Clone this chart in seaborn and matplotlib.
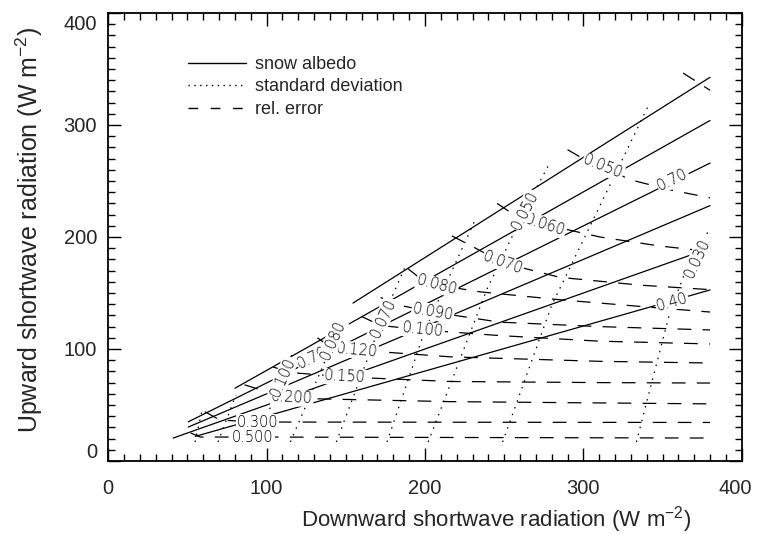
import numpy as np
import pandas as pd
import matplotlib
matplotlib.use("Agg")
import matplotlib.pyplot as plt
import seaborn as sns
from matplotlib.lines import Line2D
from matplotlib.transforms import ScaledTranslation

# ---------------- data (W m-2) ----------------
# snow albedo contours (solid)
alb_levels = ["0.90", "0.80", "0.70", "0.60", "0.50", "0.40"]
alb_x = [[154.5, 380], [80, 380], [50.5, 380], [50.5, 380], [41, 380], [55, 380]]
alb_y = [[141, 342.6], [65, 304], [35, 266], [30.3, 228], [20.5, 190], [22, 152.7]]

# relative error contours (dashed)
rel_levels = ["0.040", "0.050", "0.060", "0.070", "0.080", "0.090",
              "0.100", "0.120", "0.150", "0.200", "0.300", "0.500"]
rel_x = [[363, 380],
         [290, 301, 312, 330, 355, 380],
         [245.5, 254, 276, 310.5, 348, 380],
         [217, 232, 249, 285, 336, 380],
         [189, 197, 208, 235, 285, 336, 380],
         [172, 184, 205, 247, 310, 380],
         [160, 172, 199, 247, 310, 380],
         [132, 140, 157, 216, 310, 380],
         [104, 115, 150, 216, 310, 380],
         [86, 102, 116, 216, 380],
         [61, 70.5, 94, 380],
         [52, 58, 91, 380]]
rel_y = [[346.4, 331],
         [278, 269, 262.5, 251, 242, 235],
         [230, 222, 211, 200, 192, 187],
         [201, 190, 177, 164, 157, 153],
         [172, 163, 157, 151, 144, 138, 133],
         [146, 139, 133, 124, 120, 117],
         [129, 121, 117, 112, 107, 104.5],
         [110, 102, 99, 93, 89, 87.5],
         [84, 79, 75, 71, 70, 69.6],
         [68, 61, 56, 53, 51],
         [44, 36.6, 34.8, 34.4],
         [25, 21.4, 21.4, 20.5]]

# standard deviation contours (dotted)
std_levels = ["0.030", "0.040", "0.050", "0.060", "0.070", "0.080", "0.100", "0.120", "0.150"]
std_x = [[333.5, 354.7, 363, 380],
         [249, 280, 342],
         [202, 239, 263, 278],
         [176, 200, 231.6],
         [144, 173.5, 187],
         [115, 148],
         [93.3, 116],
         [69.3, 80.6],
         [54.8, 59]]
std_y = [[17, 133, 164, 208],
         [17, 139, 320],
         [17, 153, 224, 264],
         [17, 117, 215],
         [17, 128, 172],
         [17, 126],
         [17, 94.6],
         [17, 59],
         [17, 43.8]]

# contour labels: text, x, y, screen rotation (deg)
lab_text = ["0.70", "0.40", "0.70",
            "0.500", "0.300", "0.200", "0.150", "0.120", "0.100",
            "0.090", "0.080", "0.070", "0.060", "0.050",
            "0.030", "0.050", "0.070", "0.080", "0.100"]
lab_x = [356.5, 356, 129,
         91.4, 94, 116, 149.5, 157, 199,
         205, 207.6, 249.3, 276, 312.4,
         371.8, 263, 173.5, 141.9, 110.3]
lab_y = [251, 142, 92,
         21.4, 34.8, 56.3, 75, 99, 117,
         133, 157, 176.8, 210.7, 262.5,
         181, 224, 127.7, 108, 75]
lab_rot = [26, 16, 26,
           0, 0, -3, -3, -5, -6,
           -10, -15, -20, -18, -22,
           65, 63, 65, 66, 66]

# ---------------- long table for seaborn ----------------
rows = []
for fam, xs, ys, tag in [("snow albedo", alb_x, alb_y, "a"),
                         ("rel. error", rel_x, rel_y, "r"),
                         ("standard deviation", std_x, std_y, "s")]:
    for i, (xx, yy) in enumerate(zip(xs, ys)):
        for xv, yv in zip(xx, yy):
            rows.append(dict(D=xv, U=yv, kind=fam, uid=f"{tag}{i}"))
df = pd.DataFrame(rows)

sns.set_theme(style="ticks")
plt.rcParams["font.family"] = ["Liberation Sans", "DejaVu Sans"]
plt.rcParams["mathtext.fontset"] = "custom"
plt.rcParams["mathtext.rm"] = "Liberation Sans"
plt.rcParams["mathtext.it"] = "Liberation Sans:italic"

fig = plt.figure(figsize=(7.59, 5.34), dpi=100)
ax = fig.add_axes([108.3 / 759, 1 - 461 / 534, (741.7 - 108.3) / 759, (461 - 13) / 534])

dash_map = {"snow albedo": "", "standard deviation": (1.2, 4.5), "rel. error": (11, 9)}
sns.lineplot(data=df, x="D", y="U", units="uid", estimator=None, style="kind",
             dashes=dash_map, color="black", sort=False, legend=False, lw=0.9, ax=ax)

for t, x, y, r in zip(lab_text, lab_x, lab_y, lab_rot):
    ax.text(x, y, t, rotation=r, rotation_mode="anchor", ha="center", va="center",
            fontsize=10.5, family="DejaVu Sans", fontweight="light", color="black", zorder=5,
            bbox=dict(boxstyle="square,pad=0.05", fc="white", ec="none"))

ax.set_xlim(0, 400)
ax.set_ylim(0, 400)
ax.set_xticks([0, 100, 200, 300, 400])
ax.set_yticks([0, 100, 200, 300, 400])
ax.set_xticks(np.arange(0, 401, 10), minor=True)
ax.set_yticks(np.arange(0, 401, 10), minor=True)
ax.tick_params(which="both", direction="in", top=True, right=True, width=1.0, color="black")
ax.tick_params(which="major", length=9.5, labelsize=14.5)
ax.tick_params(which="minor", length=5)
ax.tick_params(axis="x", pad=13)
ax.tick_params(axis="y", pad=8)
for s in ax.spines.values():
    s.set_linewidth(1.3)
    s.set_color("black")

ax.set_xlabel("Downward shortwave radiation (W m$^{-2}$)", fontsize=16)
ax.xaxis.label.set_va("center")
ax.xaxis.set_label_coords(0.612, -0.131)
ax.set_ylabel("Upward shortwave radiation (W m$^{-2}$)", fontsize=18)
ax.yaxis.label.set_va("center")
ax.yaxis.set_label_coords(-0.124, 0.515)

handles = [Line2D([], [], color="black", lw=1.0, ls="-"),
           Line2D([], [], color="black", lw=1.0, ls=(0, (1, 3.2))),
           Line2D([], [], color="black", lw=1.0, ls=(0, (7, 9)))]
ax.legend(handles, ["snow albedo", "standard deviation", "rel. error"],
          loc="upper left", bbox_to_anchor=(0.114, 0.92), frameon=False,
          fontsize=13, handlelength=3.2, handletextpad=0.5, labelspacing=0.3,
          borderaxespad=0.0)

fig.canvas.draw()
for lab in ax.get_yticklabels():
    if lab.get_text() == "0":
        lab.set_transform(lab.get_transform() + ScaledTranslation(0, 10 / 100, fig.dpi_scale_trans))
    elif lab.get_text() == "400":
        lab.set_transform(lab.get_transform() + ScaledTranslation(0, -10 / 100, fig.dpi_scale_trans))
for lab in ax.get_xticklabels():
    if lab.get_text() == "400":
        lab.set_transform(lab.get_transform() + ScaledTranslation(-6 / 100, 0, fig.dpi_scale_trans))

plt.savefig("out.png", dpi=100)
